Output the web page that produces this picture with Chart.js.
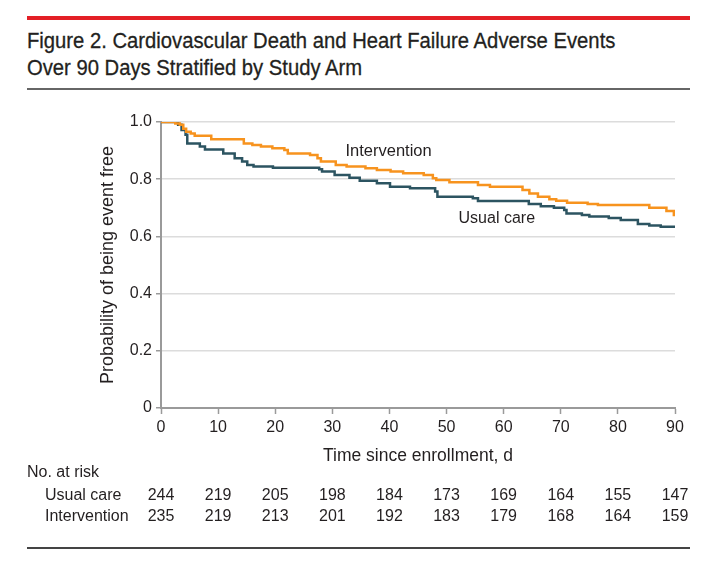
<!DOCTYPE html>
<html>
<head>
<meta charset="utf-8">
<script src="https://cdn.jsdelivr.net/npm/chart.js@4.4.1/dist/chart.umd.min.js"></script>
<style>
  html, body { margin: 0; padding: 0; background: #fff; }
  body { width: 716px; height: 585px; position: relative; overflow: hidden;
         font-family: "Liberation Sans", sans-serif; }
  #redbar { position: absolute; left: 27px; top: 16px; width: 663px; height: 4px; background: #e31f26; }
  #title { position: absolute; left: 27px; top: 27px; font-size: 22px; line-height: 27px; color: #231f20;
           white-space: nowrap; transform: scaleX(0.92); transform-origin: 0 0;
           -webkit-text-stroke: 0.3px #231f20; }
  #rule1 { position: absolute; left: 27px; top: 88px; width: 663px; height: 2px; background: #666; }
  #rule2 { position: absolute; left: 27px; top: 547px; width: 663px; height: 2px; background: #444; }
  #c { position: absolute; left: 0; top: 0; }
</style>
</head>
<body>
<div id="redbar"></div>
<div id="title">Figure 2. Cardiovascular Death and Heart Failure Adverse Events<br>Over 90 Days Stratified by Study Arm</div>
<div id="rule1"></div>
<div id="rule2"></div>
<canvas id="c" width="716" height="585"></canvas>
<script>
// ---- data ----
const usualT = [0, 3.0, 3.6, 4.3, 4.6, 6.8, 7.7, 10.9, 12.9, 14.2, 15.1, 16.2, 19.6, 27.7, 28.2, 30.4, 33.0, 34.8, 37.8, 40.1, 43.6, 48.0, 48.4, 54.6, 55.5, 64.4, 66.5, 68.8, 70.6, 71.0, 73.7, 75.0, 78.4, 80.5, 83.5, 85.5, 87.5, 90];
const usualS = [1.0, 0.99, 0.972, 0.955, 0.925, 0.914, 0.904, 0.89, 0.873, 0.862, 0.85, 0.844, 0.84, 0.835, 0.827, 0.815, 0.805, 0.795, 0.786, 0.774, 0.768, 0.757, 0.739, 0.733, 0.724, 0.713, 0.705, 0.70, 0.692, 0.68, 0.675, 0.67, 0.664, 0.657, 0.643, 0.638, 0.634, 0.632];
const interT = [0, 2.5, 3.3, 3.9, 4.4, 5.2, 5.9, 8.8, 14.5, 16.0, 17.5, 19.5, 21.6, 22.2, 26.1, 27.4, 28.0, 30.6, 32.5, 35.8, 37.8, 40.2, 42.4, 46.0, 47.6, 48.2, 50.5, 55.5, 57.6, 63.3, 64.5, 66.0, 68.0, 69.2, 71.1, 74.7, 76.5, 85.5, 88.5, 89.8, 90];
const interS = [1.0, 0.995, 0.99, 0.976, 0.966, 0.96, 0.952, 0.94, 0.925, 0.92, 0.914, 0.908, 0.902, 0.89, 0.885, 0.873, 0.862, 0.85, 0.844, 0.838, 0.832, 0.827, 0.821, 0.815, 0.803, 0.797, 0.789, 0.78, 0.774, 0.762, 0.75, 0.739, 0.73, 0.725, 0.718, 0.713, 0.71, 0.70, 0.689, 0.675, 0.675];
const xTicks = [0, 10, 20, 30, 40, 50, 60, 70, 80, 90];
const yTicks = [0, 0.2, 0.4, 0.6, 0.8, 1.0];
const riskUsual = [244, 219, 205, 198, 184, 173, 169, 164, 155, 147];
const riskInter = [235, 219, 213, 201, 192, 183, 179, 168, 164, 159];
const seriesNames = ['Usual care', 'Intervention'];

const FONT = '"Liberation Sans", sans-serif';
const TXT = '#231f20';
const toPts = (t, s) => t.map((v, i) => ({x: v, y: s[i]}));

const extras = {
  id: 'extras',
  afterDraw(chart) {
    const {ctx, scales: {x, y}} = chart;
    ctx.save();
    ctx.fillStyle = TXT;
    ctx.textBaseline = 'middle';
    ctx.textAlign = 'left';
    // curve labels
    ctx.font = '16.5px ' + FONT;
    ctx.fillText(seriesNames[1], x.getPixelForValue(32.3), y.getPixelForValue(0.896));
    ctx.font = '16px ' + FONT;
    ctx.fillText(seriesNames[0], x.getPixelForValue(52.1), y.getPixelForValue(0.662));
    // number at risk
    ctx.font = '16px ' + FONT;
    ctx.fillText('No. at risk', 27, 472.5);
    ctx.fillText(seriesNames[0], 45, 495.5);
    ctx.fillText(seriesNames[1], 45, 516.5);
    ctx.textAlign = 'center';
    xTicks.forEach((t, i) => {
      const px = x.getPixelForValue(t);
      ctx.fillText(String(riskUsual[i]), px, 495.5);
      ctx.fillText(String(riskInter[i]), px, 516.5);
    });
    ctx.restore();
  }
};

new Chart(document.getElementById('c'), {
  type: 'line',
  data: {
    datasets: [
      { label: seriesNames[1], data: toPts(interT, interS), borderColor: '#f7931e', borderWidth: 2.5,
        stepped: 'before', pointRadius: 0, fill: false },
      { label: seriesNames[0], data: toPts(usualT, usualS), borderColor: '#2c5461', borderWidth: 2.5,
        stepped: 'before', pointRadius: 0, fill: false }
    ]
  },
  options: {
    responsive: false,
    animation: false,
    devicePixelRatio: 1,
    layout: { padding: { left: 97, top: 122, right: 41, bottom: 108 } },
    plugins: { legend: { display: false }, tooltip: { enabled: false } },
    scales: {
      x: {
        type: 'linear', min: 0, max: 90,
        afterBuildTicks: s => { s.ticks = xTicks.map(v => ({value: v})); },
        afterFit: s => { s.height = 69; },
        ticks: { color: TXT, font: { family: FONT, size: 16 }, padding: 4, maxRotation: 0 },
        grid: { display: true, drawOnChartArea: false, tickLength: 6, tickColor: '#9a9a9a', tickWidth: 1.5 },
        border: { display: true, color: '#9a9a9a', width: 2 },
        title: { display: true, text: 'Time since enrollment, d', color: TXT,
                 font: { family: FONT, size: 17.5 }, padding: { top: 0, bottom: 10 } }
      },
      y: {
        type: 'linear', min: 0, max: 1,
        afterBuildTicks: s => { s.ticks = yTicks.map(v => ({value: v})); },
        afterFit: s => { s.width = 64; },
        ticks: { color: TXT, font: { family: FONT, size: 16 }, padding: 4,
                 callback: v => (v === 0 ? '0' : v.toFixed(1)) },
        grid: { color: '#dcdcdc', lineWidth: 1.5, tickLength: 5, tickColor: '#9a9a9a', drawTicks: true },
        border: { display: true, color: '#9a9a9a', width: 2 },
        title: { display: true, text: 'Probability of being event free', color: TXT,
                 font: { family: FONT, size: 18 }, padding: { top: 0, bottom: 0 } }
      }
    }
  },
  plugins: [extras]
});
</script>
</body>
</html>
